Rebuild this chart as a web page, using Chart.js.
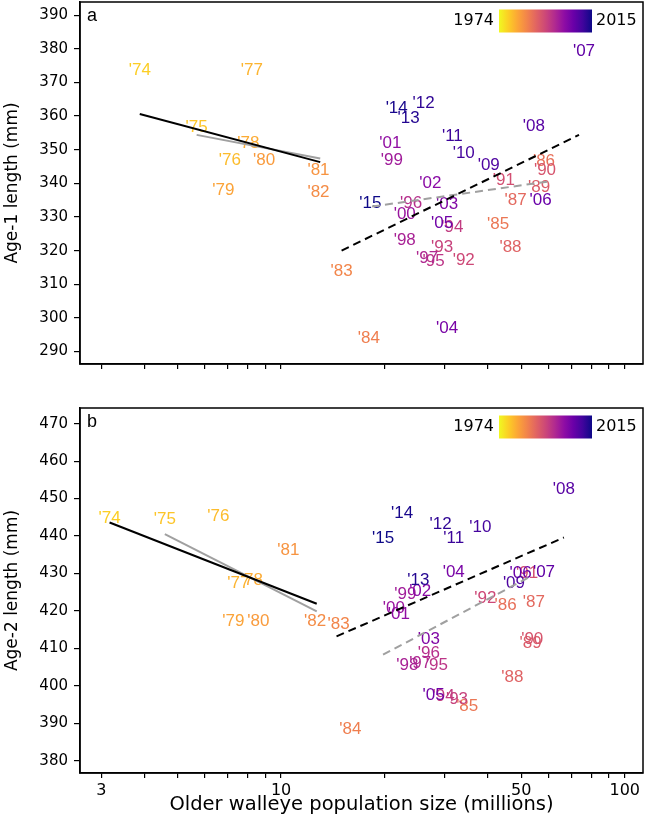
<!DOCTYPE html>
<html><head><meta charset="utf-8">
<script src="https://cdn.jsdelivr.net/npm/chart.js@4"></script>
<style>
html,body{margin:0;padding:0;background:#fff;}
#wrap{position:relative;width:646px;height:827px;overflow:hidden;}
canvas{position:absolute;left:0;}
</style></head><body>
<div id="wrap">
<canvas id="ca" width="646" height="400" style="top:0"></canvas>
<canvas id="cb" width="646" height="427" style="top:400px"></canvas>
</div>
<script>
// ---------- data ----------
const years = [1974,1975,1976,1977,1978,1979,1980,1981,1982,1983,1984,1985,1986,1987,1988,1989,1990,1991,1992,1993,1994,1995,1996,1997,1998,1999,2000,2001,2002,2003,2004,2005,2006,2007,2008,2009,2010,2011,2012,2013,2014,2015];

// panel a: older walleye population (millions) and age-1 length (mm)
const popA = [3.88,5.68,7.10,8.22,8.03,6.79,8.92,12.85,12.85,15.0,18.0,42.8,58.2,48.1,46.5,56.3,58.6,44.5,34.0,29.4,31.5,27.8,23.9,26.6,22.9,21.0,22.9,20.8,27.2,30.4,30.4,29.4,56.9,76.1,54.4,40.2,34.0,31.5,26.0,23.5,21.7,18.2];
const lenA = [373.7,356.8,346.9,373.7,351.9,338.0,346.9,344.0,337.2,313.8,294.0,327.9,346.4,335.1,320.9,338.8,343.8,341.0,317.0,320.9,326.8,316.7,334.1,317.7,323.0,346.9,330.9,351.9,340.0,333.9,296.9,328.1,335.0,379.1,357.0,345.5,348.9,353.9,363.8,359.3,362.3,334.1];

// panel b: older walleye population (millions) and age-2 length (mm)
const popB = [3.17,4.59,6.57,7.51,8.22,7.26,8.59,10.5,12.56,14.7,15.9,34.8,45.0,54.4,47.1,53.2,53.8,52.0,39.3,32.5,29.7,28.4,26.9,25.4,23.3,23.0,21.3,22.0,25.4,26.9,31.8,27.8,49.8,58.2,66.5,47.6,38.0,31.8,29.1,25.1,22.5,19.8];
const lenB = [444.8,444.4,445.2,427.5,428.3,417.2,417.2,436.3,417.2,416.3,388.3,394.5,421.4,422.3,402.3,411.4,412.5,430.1,423.4,396.5,397.2,405.5,408.8,406.1,405.5,424.3,420.8,419.0,425.2,412.3,430.3,397.4,430.1,430.3,452.4,427.5,442.4,439.3,443.0,428.3,446.1,439.5];

// fitted lines (endpoints)
const fitA_early = [{x:3.88,y:360.6},{x:13.0,y:346.3}];
const fitA_earlyAlt = [{x:5.68,y:354.4},{x:13.0,y:347.4}];
const fitA_late = [{x:15.0,y:320.0},{x:73.6,y:354.4}];
const fitA_lateAlt = [{x:18.4,y:333.1},{x:59.5,y:340.5}];
const fitB_early = [{x:3.17,y:443.6},{x:12.7,y:421.9}];
const fitB_earlyAlt = [{x:4.59,y:440.5},{x:12.7,y:419.9}];
const fitB_late = [{x:14.5,y:413.2},{x:66.5,y:439.6}];
const fitB_lateAlt = [{x:19.8,y:408.3},{x:53.2,y:429.2}];

// ticks
const xTicks = [3,4,5,6,7,8,9,10,20,30,40,50,60,70,80,90,100];
const xTickLabels = [3,10,50,100];
const yTicksA = [290,300,310,320,330,340,350,360,370,380,390];
const yTicksB = [380,390,400,410,420,430,440,450,460,470];
const yearMin = 1974, yearMax = 2015;

// ---------- colours ----------
const plasma = ['#0d0887','#41049d','#6a00a8','#8f0da4','#b12a90','#cc4778','#e16462','#f2844b','#fca636','#fcce25','#f0f921'];
function hex2rgb(h){return [parseInt(h.substr(1,2),16),parseInt(h.substr(3,2),16),parseInt(h.substr(5,2),16)];}
function plasmaAt(t){
  t=Math.max(0,Math.min(1,t));
  const p=t*10, i=Math.min(9,Math.floor(p)), f=p-i;
  const a=hex2rgb(plasma[i]), b=hex2rgb(plasma[i+1]);
  return 'rgb('+a.map((v,k)=>Math.round(v+(b[k]-v)*f)).join(',')+')';
}
function yearColor(y){ return plasmaAt(0.9*(1-(y-yearMin)/(yearMax-yearMin))); }

// ---------- plugins ----------
const labelPlugin = {
  id:'yearLabels',
  beforeDatasetsDraw(chart){
    const ctx=chart.ctx, meta=chart.getDatasetMeta(0);
    ctx.save();
    ctx.font='17px "Liberation Sans", Arial, sans-serif';
    ctx.textAlign='center'; ctx.textBaseline='middle';
    meta.data.forEach((el,i)=>{
      ctx.fillStyle=yearColor(years[i]);
      ctx.fillText("'"+String(years[i]).slice(2), el.x, el.y);
    });
    ctx.restore();
  }
};
const framePlugin = {
  id:'frame',
  afterDraw(chart, args, opts){
    const ctx=chart.ctx, a=chart.chartArea;
    ctx.save();
    ctx.strokeStyle='#000'; ctx.lineWidth=1.5;
    ctx.strokeRect(a.left, a.top, a.right-a.left, a.bottom-a.top);
    // panel letter
    ctx.fillStyle='#000';
    ctx.font='18px "Liberation Sans", Arial, sans-serif';
    ctx.textAlign='left'; ctx.textBaseline='alphabetic';
    ctx.fillText(opts.letter, a.left+7, a.top+19);
    // colour bar
    const x0=499, x1=592, y0=a.top+7.5, h=23;
    const g=ctx.createLinearGradient(x0,0,x1,0);
    for(let k=0;k<=10;k++) g.addColorStop(k/10, plasma[10-k]);
    ctx.fillStyle=g; ctx.fillRect(x0,y0,x1-x0,h);
    ctx.fillStyle='#000';
    ctx.font='16px "DejaVu Sans", Verdana, sans-serif';
    ctx.textBaseline='middle';
    ctx.textAlign='right'; ctx.fillText(String(yearMin), x0-5, y0+h/2);
    ctx.textAlign='left'; ctx.fillText(String(yearMax), x1+4, y0+h/2);
    ctx.restore();
  }
};

function noPad(s){ s.paddingTop=0; s.paddingBottom=0; s.paddingLeft=0; s.paddingRight=0; }

function makePanel(id, pop, len, fits, yTicks, yMin, yMax, yTitle, letter, showX, padding, xH){
  const pts = pop.map((v,i)=>({x:v,y:len[i]}));
  const lineDs = (data,color,dash)=>({type:'line',data,borderColor:color,borderWidth:2,borderDash:dash,pointRadius:0,fill:false,tension:0});
  return new Chart(document.getElementById(id), {
    type:'scatter',
    data:{datasets:[
      {data:pts,pointRadius:0,pointHoverRadius:0,showLine:false},
      lineDs(fits[0],'#000',[]),
      lineDs(fits[1],'#a0a0a0',[]),
      lineDs(fits[2],'#000',[8,5]),
      lineDs(fits[3],'#a0a0a0',[8,5])
    ]},
    options:{
      responsive:false, animation:false, events:[],
      layout:{padding},
      plugins:{legend:{display:false},tooltip:{enabled:false},frame:{letter}},
      scales:{
        x:{type:'logarithmic',min:2.6,max:113,bounds:'data',
          afterBuildTicks:s=>{s.ticks=xTicks.map(v=>({value:v}));},
          afterFit:s=>{s.height=xH; noPad(s);},
          ticks:{autoSkip:false,maxRotation:0,minRotation:0,color:'#000',padding:3,
            font:{family:'"DejaVu Sans", Verdana, sans-serif',size:16},
            callback:v=> (showX && xTickLabels.includes(v)) ? String(v) : ''},
          grid:{display:true,drawOnChartArea:false,drawTicks:true,tickLength:5,color:'#000',lineWidth:1.2},
          border:{display:true,color:'#000',width:1.5},
          title:{display:showX,text:'Older walleye population size (millions)',color:'#000',
            font:{family:'"DejaVu Sans", Verdana, sans-serif',size:19.5},padding:{top:0,bottom:10}}
        },
        y:{type:'linear',min:yMin,max:yMax,bounds:'data',
          afterBuildTicks:s=>{s.ticks=yTicks.map(v=>({value:v}));},
          afterFit:s=>{s.width=80; noPad(s);},
          ticks:{autoSkip:false,color:'#000',padding:6,font:{family:'"DejaVu Sans", Verdana, sans-serif',size:15}},
          grid:{display:true,drawOnChartArea:false,drawTicks:true,tickLength:6,color:'#000',lineWidth:1.2},
          border:{display:true,color:'#000',width:1.5},
          title:{display:true,text:yTitle,color:'#000',font:{family:'"DejaVu Sans", Verdana, sans-serif',size:17},padding:{top:2,bottom:0}}
        }
      }
    },
    plugins:[labelPlugin, framePlugin]
  });
}

makePanel('ca', popA, lenA, [fitA_early,fitA_earlyAlt,fitA_late,fitA_lateAlt], yTicksA, 286.3, 393.9,
  'Age-1 length (mm)', 'a', false, {left:0,top:2,right:3,bottom:26}, 10);
makePanel('cb', popB, lenB, [fitB_early,fitB_earlyAlt,fitB_late,fitB_lateAlt], yTicksB, 376.7, 474.2,
  'Age-2 length (mm)', 'b', true, {left:0,top:8,right:3,bottom:0}, 54);
</script>
</body></html>
